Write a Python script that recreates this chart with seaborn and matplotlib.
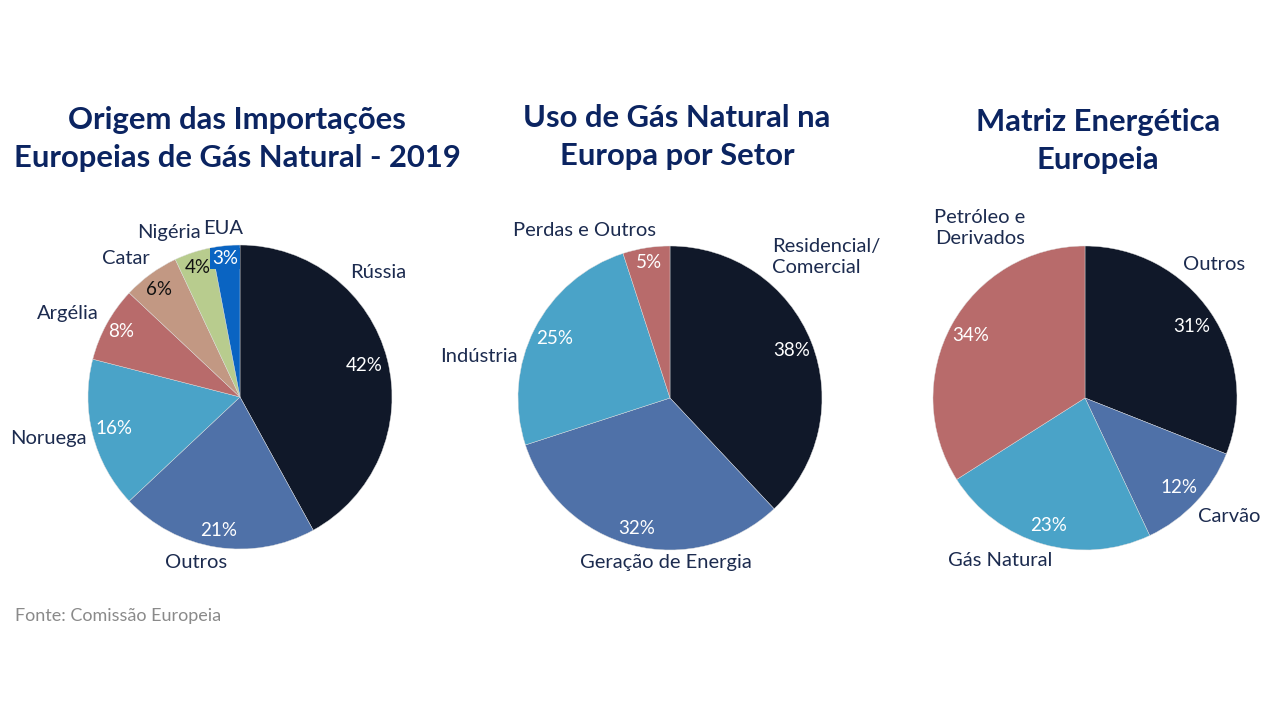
import matplotlib
matplotlib.use("Agg")
import matplotlib.pyplot as plt
import seaborn as sns

sns.set_theme(style="white")
plt.rcParams['font.family'] = ['Lato', 'DejaVu Sans']

# ---- data ----
titles = ["Origem das Importações\nEuropeias de Gás Natural - 2019",
          "Uso de Gás Natural na\nEuropa por Setor",
          "Matriz Energética\nEuropeia"]

imp_labels = ["Rússia", "Outros", "Noruega", "Argélia", "Catar", "Nigéria", "EUA"]
imp_values = [42, 21, 16, 8, 6, 4, 3]

uso_labels = ["Residencial/\nComercial", "Geração de Energia", "Indústria", "Perdas e Outros"]
uso_values = [38, 32, 25, 5]

mat_labels = ["Outros", "Carvão", "Gás Natural", "Petróleo e\nDerivados"]
mat_values = [31, 12, 23, 34]

# ---- styles ----
NAVY = "#101829"
STEEL = "#4f71a8"
SKY = "#4aa3c8"
ROSE = "#b86b6b"
TAN = "#c29883"
SAGE = "#b8cc8e"
BLUE = "#0a64c2"

imp_colors = [NAVY, STEEL, SKY, ROSE, TAN, SAGE, BLUE]
uso_colors = [NAVY, STEEL, SKY, ROSE]
mat_colors = [NAVY, STEEL, SKY, ROSE]

imp_pct_colors = ["white", "white", "white", "white", "#111111", "#111111", "white"]
uso_pct_colors = ["white"] * 4
mat_pct_colors = ["white"] * 4

# label / percent positions (in pie radius units)
imp_label_pos = [(0.91, 0.82), (-0.29, -1.09), (-1.26, -0.27), (-1.13, 0.55),
                 (-0.75, 0.91), (-0.47, 1.08), (-0.11, 1.11)]
imp_pct_pos = [(0.82, 0.21), (-0.14, -0.88), (-0.83, -0.21), (-0.78, 0.43),
               (-0.53, 0.71), (-0.28, 0.85), (-0.10, 0.91)]
uso_label_pos = [(0.67, 0.93), (-0.03, -1.08), (-1.26, 0.27), (-0.56, 1.10)]
uso_pct_pos = [(0.80, 0.31), (-0.22, -0.86), (-0.76, 0.39), (-0.14, 0.89)]
mat_label_pos = [(0.85, 0.88), (0.95, -0.78), (-0.56, -1.07), (-0.69, 1.12)]
mat_pct_pos = [(0.70, 0.47), (0.62, -0.59), (-0.24, -0.84), (-0.75, 0.41)]

W, H = 1280, 720
fig = plt.figure(figsize=(W / 100, H / 100), dpi=100)
fig.patch.set_facecolor("white")

TITLE_C = "#0b2461"
LABEL_C = "#1c2b4f"
R_PX = 152
L = 1.7


def draw_pie(cx, cy, values, labels, colors, pct_colors, lpos, ppos, title, tx, ty,
             label_ha=None, boxed=None):
    side = 2 * L * R_PX
    ax = fig.add_axes([(cx - side / 2) / W, (H - cy - side / 2) / H, side / W, side / H])
    wedges, texts, autotexts = ax.pie(values, labels=labels, colors=colors, startangle=90,
                                      counterclock=False, autopct="%d%%",
                                      wedgeprops=dict(linewidth=0.3, edgecolor="#dddddd"),
                                      textprops=dict(fontsize=13.5))
    for i, t in enumerate(texts):
        t.set_position(lpos[i])
        t.set_color(LABEL_C)
        t.set_fontsize(14.5)
        t.set_linespacing(1.3)
        t.set_ha("center")
        t.set_va("center")
        if label_ha and label_ha[i]:
            t.set_ha(label_ha[i])
            t.set_multialignment(label_ha[i])
    for i, t in enumerate(autotexts):
        t.set_position(ppos[i])
        t.set_color(pct_colors[i])
        t.set_ha("center")
        t.set_va("center")
        if boxed and boxed[i]:
            t.set_bbox(dict(facecolor=colors[i], edgecolor="none", pad=1.5))
    ax.set_xlim(-L, L)
    ax.set_ylim(-L, L)
    ax.set_aspect("equal")
    ax.axis("off")
    fig.text(tx / W, 1 - ty / H, title, ha="center", va="center", fontsize=22.3,
             fontweight="bold", color=TITLE_C, linespacing=1.4)


draw_pie(240, 397, imp_values, imp_labels, imp_colors, imp_pct_colors,
         imp_label_pos, imp_pct_pos, titles[0], 237, 139,
         boxed=[False] * 6 + [True])
draw_pie(670, 398, uso_values, uso_labels, uso_colors, uso_pct_colors,
         uso_label_pos, uso_pct_pos, titles[1], 677, 137,
         label_ha=["left", None, None, None])
draw_pie(1085, 398, mat_values, mat_labels, mat_colors, mat_pct_colors,
         mat_label_pos, mat_pct_pos, titles[2], 1098, 141)

fig.text(15 / W, 1 - 616 / H, "Fonte: Comissão Europeia", ha="left", va="center",
         fontsize=13, color="#8a8a8a")

fig.savefig("out.png", dpi=100, facecolor="white")
